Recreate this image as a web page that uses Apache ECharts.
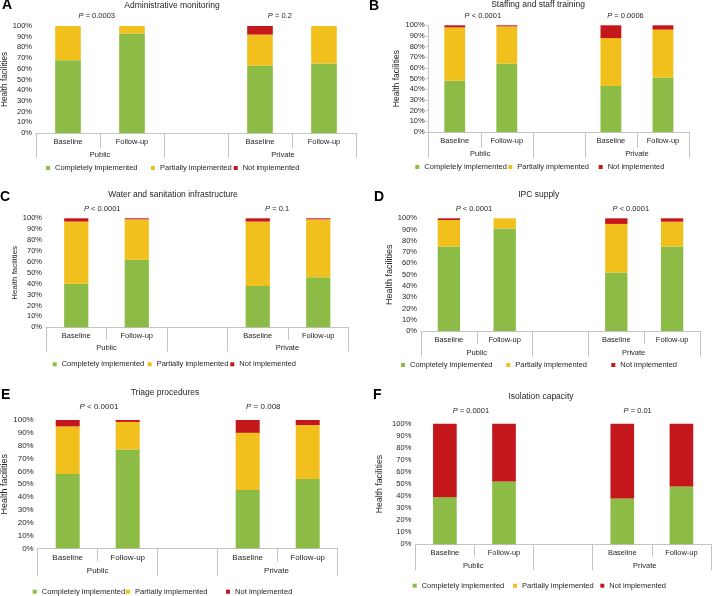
<!DOCTYPE html>
<html><head><meta charset="utf-8">
<script src="https://cdn.jsdelivr.net/npm/echarts@6/dist/echarts.min.js"></script>
<style>html,body{margin:0;padding:0;background:#fff}#c{width:713px;height:596px}</style>
</head><body><div id="c"></div>
<script>
const panelLetters = ['A','B','C','D','E','F'];
const panelTitles = ['Administrative monitoring','Staffing and staff training','Water and sanitation infrastructure','IPC supply','Triage procedures','Isolation capacity'];
const categories = ['Baseline','Follow-up','','Baseline','Follow-up'];
const groupLabels = ['Public','Private'];
const groupBoundaries = [0, 2, 3, 5];
const seriesNames = ['Completely implemented','Partially implemented','Not implemented'];
const pValueLabels = [
  ['P = 0.0003','P = 0.2'],
  ['P < 0.0001','P = 0.0006'],
  ['P < 0.0001','P = 0.1'],
  ['P < 0.0001','P < 0.0001'],
  ['P < 0.0001','P = 0.008'],
  ['P = 0.0001','P = 0.01']
];
const completelyImplemented = [
  [68, 93, null, 63, 65],
  [48, 64, null, 43, 51],
  [40, 62, null, 38, 46],
  [75, 91, null, 52, 75],
  [58, 77, null, 45.5, 54],
  [39, 52, null, 38, 48]
];
const partiallyImplemented = [
  [32, 7, null, 29, 35],
  [50, 35, null, 45, 45],
  [57, 37, null, 59, 53],
  [23.5, 9, null, 43, 22],
  [37, 21.5, null, 44.5, 42],
  [0, 0, null, 0, 0]
];
const notImplemented = [
  [0, 0, null, 8, 0],
  [2, 1, null, 12, 4],
  [3, 1, null, 3, 1],
  [1.5, 0, null, 5, 3],
  [5, 1.5, null, 10, 4],
  [61, 48, null, 62, 52]
];
const yAxisName = 'Health facilities';
const yMin = 0, yMax = 100, yStep = 10;

// ---- styling / layout ----
const colors = ['#8cbb46', '#f1c01c', '#c3171c'];
const ff = 'Liberation Sans, Arial, sans-serif';
const txt = '#262626';
const axisCol = '#c4c4c4';

const layouts = [
  {grid:[36,26,320,107], letter:[2,-2], title:[172,5.5], fs:7.5, legFs:7.5, nameFs:8.2, yNameGap:26, yLine:false,
   pY:16.3, pPos:[0.95,3.81], gPos:[1.0,3.86], catY:142, grpY:155, shortTick:15, longTick:25,
   legendY:168, legendX:[55,160,242.7]},
  {grid:[428.7,25.3,260.3,106.7], letter:[369,-1], title:[538,5], fs:7.5, legFs:7.5, nameFs:8.5, yNameGap:26, yLine:true,
   pY:16.3, pPos:[1.04,3.78], gPos:[0.99,4.0], catY:141, grpY:154, shortTick:15.7, longTick:26,
   legendY:167, legendX:[424.3,517.3,607.7]},
  {grid:[46,218.3,302.5,109], letter:[0,190], title:[173,195], fs:7.5, legFs:7.5, nameFs:8, yNameGap:26, yLine:false,
   pY:208.5, pPos:[0.93,3.82], gPos:[1.0,3.99], catY:335.7, grpY:348.3, shortTick:12.7, longTick:24.4,
   legendY:364.3, legendX:[61.7,156.7,239.3]},
  {grid:[421,218.3,279,112.7], letter:[374,190], title:[538.7,194.5], fs:7.5, legFs:7.5, nameFs:9, yNameGap:26.7, yLine:false,
   pY:208.5, pPos:[0.95,3.76], gPos:[1.0,3.81], catY:340.3, grpY:352.7, shortTick:13, longTick:25.7,
   legendY:365, legendX:[410,515.3,620.3]},
  {grid:[37.7,420,300,128.3], letter:[1,388], title:[165,392.5], fs:8, legFs:7.6, nameFs:9, yNameGap:28, yLine:false,
   pY:407, pPos:[1.02,3.76], gPos:[1.0,3.98], catY:557.3, grpY:570.7, shortTick:13, longTick:28,
   legendY:591.7, legendX:[41.7,135,235]},
  {grid:[415.3,423.7,295.7,120.6], letter:[373,388], title:[541,397], fs:7.5, legFs:7.5, nameFs:8.7, yNameGap:31, yLine:false,
   pY:411, pPos:[0.94,3.76], gPos:[0.98,3.88], catY:553.3, grpY:566, shortTick:12.3, longTick:25.7,
   legendY:585.7, legendX:[421.7,522,609.3]}
];

const chart = echarts.init(document.getElementById('c'), null, {renderer: 'canvas'});
const grid = [], xAxis = [], yAxis = [], series = [], legend = [], graphic = [];

layouts.forEach((L, p) => {
  const [gl, gt, gw, gh] = L.grid;
  const fs = L.fs;
  const axisBottom = gt + gh;
  grid.push({left: gl, top: gt, width: gw, height: gh, containLabel: false, outerBoundsMode: 'none'});

  // category axis (slots)
  xAxis.push({
    type: 'category', gridIndex: p, data: categories, position: 'bottom',
    axisLine: {show: true, lineStyle: {color: axisCol, width: 1}},
    axisTick: {show: true, alignWithLabel: false, interval: 0, length: L.shortTick, lineStyle: {color: axisCol}},
    axisLabel: {interval: 0, fontSize: fs, color: txt, fontFamily: ff, lineHeight: 9, margin: L.catY - axisBottom - 4.5},
    splitLine: {show: false}
  });
  // group axis (Public / Private)
  xAxis.push({
    type: 'value', gridIndex: p, position: 'bottom', min: 0, max: categories.length,
    axisLine: {show: false}, splitLine: {show: false},
    axisTick: {show: true, customValues: groupBoundaries, length: L.longTick, lineStyle: {color: axisCol}},
    axisLabel: {show: true, customValues: L.gPos, fontSize: fs, color: txt, fontFamily: ff, lineHeight: 9,
      margin: L.grpY - axisBottom - 4.5,
      formatter: (v) => v < categories.length / 2 ? groupLabels[0] : groupLabels[1]}
  });
  // P-value axis on top
  xAxis.push({
    type: 'value', gridIndex: p, position: 'top', min: 0, max: categories.length,
    axisLine: {show: false}, axisTick: {show: false}, splitLine: {show: false},
    axisLabel: {show: true, customValues: L.pPos, fontSize: fs, color: txt, fontFamily: ff, lineHeight: 9,
      margin: gt - L.pY - 4.5,
      formatter: (v) => {
        const s = v < categories.length / 2 ? pValueLabels[p][0] : pValueLabels[p][1];
        return '{i|' + s.charAt(0) + '}' + s.slice(1);
      },
      rich: {i: {fontStyle: 'italic', fontSize: fs, color: txt, fontFamily: ff, lineHeight: 9}}
    }
  });

  yAxis.push({
    type: 'value', gridIndex: p, min: yMin, max: yMax, interval: yStep,
    name: yAxisName, nameLocation: 'middle', nameGap: L.yNameGap,
    nameTextStyle: {fontSize: L.nameFs, color: txt, fontFamily: ff},
    axisLine: {show: L.yLine, lineStyle: {color: axisCol}},
    axisTick: {show: L.yLine, length: 3, lineStyle: {color: axisCol}},
    splitLine: {show: false},
    axisLabel: {formatter: '{value}%', fontSize: fs, color: txt, fontFamily: ff, margin: 4}
  });

  const vals = [completelyImplemented[p], partiallyImplemented[p], notImplemented[p]];
  seriesNames.forEach((nm, k) => {
    series.push({
      type: 'bar', name: nm, xAxisIndex: 3 * p, yAxisIndex: p, stack: 'panel' + p,
      barWidth: '40%', data: vals[k], itemStyle: {color: colors[k]}, animation: false
    });
  });

  seriesNames.forEach((nm, k) => {
    legend.push({
      show: true, left: L.legendX[k] - 9, top: L.legendY - 4.5, padding: 0,
      itemWidth: 4, itemHeight: 4, selectedMode: false,
      data: [{name: nm, icon: 'rect'}],
      textStyle: {fontSize: L.legFs, color: txt, fontFamily: ff, lineHeight: 9}
    });
  });

  graphic.push({type: 'text', x: L.letter[0], y: L.letter[1], silent: true,
    style: {text: panelLetters[p], fontSize: 14, fontWeight: 'bold', fontFamily: ff, fill: '#000', verticalAlign: 'top', align: 'left'}});
  graphic.push({type: 'text', x: L.title[0], y: L.title[1], silent: true,
    style: {text: panelTitles[p], fontSize: 8.5, fontFamily: ff, fill: txt, align: 'center', verticalAlign: 'middle'}});
});

chart.setOption({
  animation: false,
  backgroundColor: '#fff',
  textStyle: {fontFamily: ff},
  grid, xAxis, yAxis, series, legend, graphic
});
</script>
</body></html>
